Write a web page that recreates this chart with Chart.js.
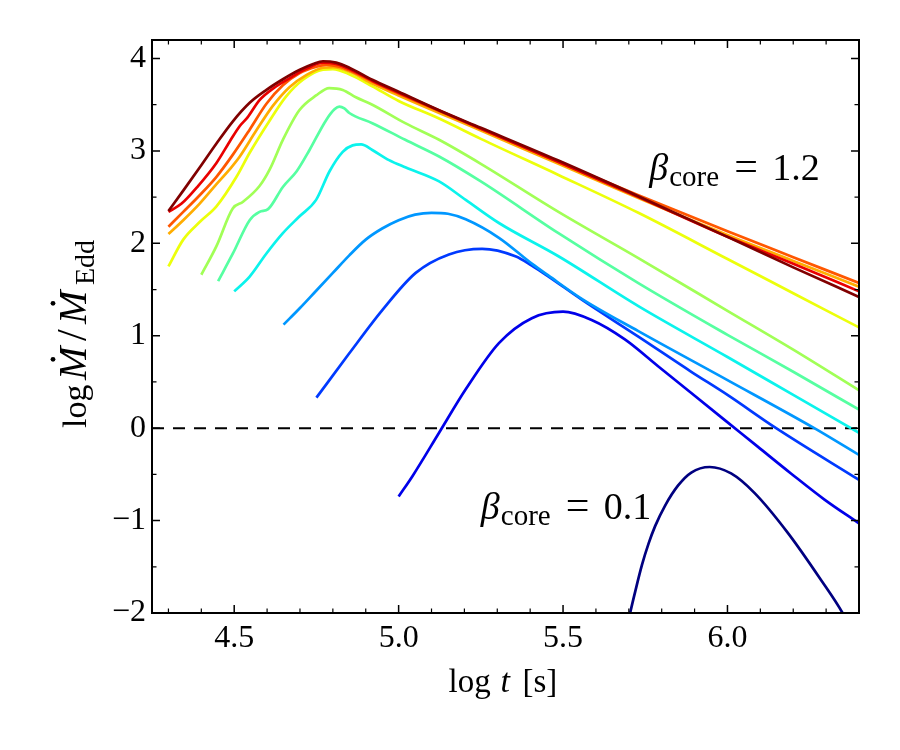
<!DOCTYPE html>
<html>
<head>
<meta charset="utf-8">
<script src="https://cdn.jsdelivr.net/npm/chart.js@4.4.1/dist/chart.umd.min.js"></script>
<style>
  html, body { margin: 0; padding: 0; background: #fff; }
  #wrap { width: 900px; height: 750px; }
</style>
</head>
<body>
<div id="wrap"><canvas id="chart" width="900" height="750"></canvas></div>
<script>
// beta_core of each curve, low to high
const betaCore = [0.1, 0.2, 0.3, 0.4, 0.5, 0.6, 0.7, 0.8, 0.9, 1.0, 1.1, 1.2];

// [log t, log Mdot/MEdd]
const curveB01 = [[5.695,-2.15],[5.704,-2.0],[5.72,-1.76],[5.74,-1.48],[5.76,-1.25],[5.78,-1.06],[5.81,-0.84],[5.85,-0.62],[5.89,-0.48],[5.946,-0.42],[6.011,-0.49],[6.082,-0.70],[6.183,-1.13],[6.284,-1.64],[6.35,-2.0],[6.36,-2.07]];
const curveB02 = [[5.0,-0.74],[5.042,-0.52],[5.123,-0.05],[5.204,0.42],[5.305,0.92],[5.405,1.19],[5.50,1.26],[5.587,1.17],[5.688,0.96],[5.789,0.67],[5.89,0.38],[5.991,0.09],[6.092,-0.20],[6.193,-0.49],[6.294,-0.77],[6.4,-1.03]];
const curveB03 = [[4.75,0.33],[4.85,0.81],[4.951,1.28],[5.052,1.68],[5.153,1.88],[5.254,1.94],[5.355,1.86],[5.405,1.76],[5.456,1.64],[5.557,1.39],[5.729,0.99],[5.89,0.61],[6.0,0.36],[6.148,0.0],[6.4,-0.56]];
const curveB04 = [[4.65,1.12],[4.70,1.30],[4.75,1.49],[4.80,1.68],[4.85,1.87],[4.90,2.04],[4.95,2.16],[5.0,2.25],[5.05,2.31],[5.10,2.33],[5.15,2.32],[5.204,2.26],[5.305,2.06],[5.405,1.78],[5.456,1.65],[5.557,1.40],[5.729,1.05],[6.0,0.52],[6.264,0.0],[6.4,-0.29]];
const curveB05 = [[4.50,1.48],[4.547,1.64],[4.598,1.89],[4.648,2.11],[4.698,2.29],[4.749,2.47],[4.79,2.78],[4.83,2.99],[4.86,3.06],[4.886,3.07],[4.92,3.01],[4.971,2.90],[5.022,2.82],[5.123,2.67],[5.204,2.47],[5.305,2.22],[5.486,1.86],[5.729,1.32],[6.0,0.77],[6.2,0.36],[6.4,-0.05]];
const curveB06 = [[4.451,1.59],[4.496,1.89],[4.547,2.25],[4.577,2.34],[4.603,2.37],[4.648,2.61],[4.69,2.78],[4.729,3.01],[4.779,3.33],[4.805,3.45],[4.82,3.48],[4.835,3.46],[4.85,3.41],[4.92,3.30],[5.02,3.12],[5.123,2.94],[5.25,2.67],[5.486,2.11],[5.729,1.57],[6.0,1.01],[6.2,0.61],[6.4,0.20]];
const curveB07 = [[4.40,1.66],[4.446,1.97],[4.496,2.38],[4.527,2.45],[4.577,2.62],[4.608,2.80],[4.648,3.12],[4.698,3.44],[4.749,3.60],[4.789,3.68],[4.83,3.66],[4.87,3.58],[4.92,3.50],[5.02,3.30],[5.123,3.12],[5.25,2.86],[5.486,2.34],[5.729,1.84],[6.0,1.27],[6.2,0.85],[6.4,0.41]];
const curveB08 = [[4.30,1.75],[4.345,2.04],[4.395,2.23],[4.446,2.40],[4.507,2.72],[4.547,2.98],[4.608,3.33],[4.658,3.59],[4.709,3.77],[4.77,3.88],[4.80,3.885],[4.85,3.83],[4.92,3.70],[5.0,3.54],[5.123,3.35],[5.25,3.13],[5.486,2.74],[5.729,2.33],[6.0,1.83],[6.2,1.46],[6.4,1.09]];
const curveB09 = [[4.30,2.10],[4.345,2.25],[4.395,2.43],[4.446,2.64],[4.486,2.80],[4.517,2.94],[4.567,3.22],[4.618,3.49],[4.668,3.69],[4.719,3.82],[4.77,3.90],[4.80,3.905],[4.85,3.86],[4.92,3.73],[5.0,3.60],[5.25,3.22],[5.486,2.86],[5.729,2.49],[6.0,2.09],[6.2,1.81],[6.4,1.53]];
const curveB10 = [[4.30,2.18],[4.345,2.34],[4.395,2.52],[4.446,2.72],[4.496,2.96],[4.547,3.23],[4.598,3.51],[4.648,3.71],[4.698,3.84],[4.75,3.91],[4.78,3.93],[4.82,3.91],[4.87,3.84],[4.92,3.75],[5.0,3.62],[5.25,3.24],[5.486,2.88],[5.729,2.52],[6.0,2.13],[6.2,1.85],[6.4,1.57]];
const curveB11 = [[4.30,2.34],[4.34,2.43],[4.39,2.62],[4.446,2.87],[4.486,3.10],[4.517,3.27],[4.54,3.36],[4.577,3.55],[4.62,3.68],[4.67,3.79],[4.72,3.89],[4.77,3.955],[4.81,3.94],[4.86,3.87],[4.92,3.76],[5.0,3.63],[5.25,3.24],[5.486,2.88],[5.729,2.50],[6.0,2.07],[6.2,1.78],[6.4,1.48]];
const curveB12 = [[4.30,2.35],[4.345,2.57],[4.395,2.82],[4.446,3.08],[4.496,3.32],[4.547,3.52],[4.598,3.66],[4.648,3.775],[4.698,3.875],[4.74,3.94],[4.77,3.97],[4.81,3.955],[4.85,3.90],[4.92,3.77],[5.0,3.64],[5.123,3.44],[5.25,3.25],[5.486,2.895],[5.729,2.51],[6.0,2.07],[6.2,1.74],[6.4,1.42]];
const curves = [curveB01, curveB02, curveB03, curveB04, curveB05, curveB06, curveB07, curveB08, curveB09, curveB10, curveB11, curveB12];

// Eddington limit reference line
const eddX = [4.25, 6.4];
const eddY = [0, 0];

const xMajorTicks = [4.5, 5.0, 5.5, 6.0];
const xTickLabels = ['4.5', '5.0', '5.5', '6.0'];
const xMinorTicks = [4.3, 4.4, 4.6, 4.7, 4.8, 4.9, 5.1, 5.2, 5.3, 5.4, 5.6, 5.7, 5.8, 5.9, 6.1, 6.2, 6.3];
const yMajorTicks = [-2, -1, 0, 1, 2, 3, 4];
const yTickLabels = ['\u22122', '\u22121', '0', '1', '2', '3', '4'];
const yMinorTicks = [-1.5, -0.5, 0.5, 1.5, 2.5, 3.5];

// jet colormap sampled at i/11
const jetColors = ['#000080', '#0000e9', '#003aff', '#0097ff', '#0bf3ec', '#56ffa1',
                   '#a1ff56', '#ecff0b', '#ffad00', '#ff5700', '#e90000', '#800000'];

const SERIF = '"Liberation Serif", "DejaVu Serif", serif';

const datasets = curves.map((c, i) => ({
    label: 'beta_core = ' + betaCore[i],
    data: c.map(p => ({ x: p[0], y: p[1] })),
    borderColor: jetColors[i],
    borderWidth: 2.7,
    pointRadius: 0,
    cubicInterpolationMode: 'monotone',
    fill: false,
    clip: 0,
    order: curves.length - i
}));
datasets.push({
    label: 'Eddington',
    data: eddX.map((v, i) => ({ x: v, y: eddY[i] })),
    borderColor: '#000',
    borderWidth: 2,
    borderDash: [12, 9],
    pointRadius: 0,
    fill: false,
    order: 100
});

// segments: {text, font, dy, at, dot}; "at" is the offset from the start
function drawRich(ctx, segs, x, y) {
    let cx = x;
    segs.forEach(s => {
        if (s.at !== undefined) cx = x + s.at;
        ctx.font = s.font;
        const w = ctx.measureText(s.text).width;
        ctx.fillText(s.text, cx, y + (s.dy || 0));
        if (s.dot) {
            ctx.beginPath();
            ctx.arc(cx + w * 0.62, y - s.dot, 2.4, 0, Math.PI * 2);
            ctx.fill();
        }
        cx += w;
    });
}

// frame with inward ticks on all four sides
const frameTicks = {
    id: 'frameTicks',
    afterDatasetsDraw(chart) {
        const { ctx, chartArea: a, scales: { x, y } } = chart;
        ctx.save();
        ctx.strokeStyle = '#000';
        const xt = (list, len, lw) => {
            ctx.lineWidth = lw;
            list.forEach(v => {
                const px = x.getPixelForValue(v);
                ctx.beginPath();
                ctx.moveTo(px, a.bottom); ctx.lineTo(px, a.bottom - len);
                ctx.moveTo(px, a.top); ctx.lineTo(px, a.top + len);
                ctx.stroke();
            });
        };
        const yt = (list, len, lw) => {
            ctx.lineWidth = lw;
            list.forEach(v => {
                const py = y.getPixelForValue(v);
                ctx.beginPath();
                ctx.moveTo(a.left, py); ctx.lineTo(a.left + len, py);
                ctx.moveTo(a.right, py); ctx.lineTo(a.right - len, py);
                ctx.stroke();
            });
        };
        xt(xMajorTicks, 8, 1.5); xt(xMinorTicks, 4.5, 1.2);
        yt(yMajorTicks, 8, 1.5); yt(yMinorTicks, 4.5, 1.2);
        ctx.lineWidth = 2;
        ctx.strokeRect(a.left, a.top, a.right - a.left, a.bottom - a.top);
        ctx.restore();
    }
};

const titles = {
    id: 'titles',
    afterDraw(chart) {
        const { ctx, chartArea: a, scales: { x, y } } = chart;
        ctx.save();
        ctx.fillStyle = '#000';
        ctx.textBaseline = 'alphabetic';
        ctx.textAlign = 'left';

        const up = '33px ' + SERIF, it = 'italic 34px ' + SERIF;
        const xl = [
            { text: 'log', font: up },
            { text: 't', font: it, at: 52 },
            { text: '[s]', font: up, at: 74 }
        ];
        drawRich(ctx, xl, (a.left + a.right) / 2 - 57, 692);

        // rotated y title, laid out from its lower end
        const yl = [
            { text: 'log', font: '34px ' + SERIF },
            { text: 'M', font: 'italic 40px ' + SERIF, dot: 33, at: 48 },
            { text: '/', font: '42px ' + SERIF, at: 87 },
            { text: 'M', font: 'italic 40px ' + SERIF, dot: 33, at: 104 },
            { text: 'Edd', font: '28px ' + SERIF, dy: 8, at: 143 }
        ];
        ctx.translate(86, 428);
        ctx.rotate(-Math.PI / 2);
        drawRich(ctx, yl, 0, 0);
        ctx.restore();

        ctx.save();
        ctx.fillStyle = '#000';
        const big = '38px ' + SERIF;
        const note = v => [
            { text: '\u03b2', font: 'italic 38px ' + SERIF },
            { text: 'core', font: '29px ' + SERIF, dy: 6, at: 20 },
            { text: '=', font: '42px ' + SERIF, at: 85 },
            { text: v, font: big, at: 123 }
        ];
        drawRich(ctx, note('1.2'), x.getPixelForValue(5.762), y.getPixelForValue(2.68));
        drawRich(ctx, note('0.1'), x.getPixelForValue(5.25), y.getPixelForValue(-0.98));
        ctx.restore();
    }
};

const chart = new Chart(document.getElementById('chart'), {
    type: 'line',
    data: { datasets: datasets },
    options: {
        responsive: false,
        animation: false,
        events: [],
        layout: { padding: { top: 40, right: 41, left: 0, bottom: 0 } },
        plugins: { legend: { display: false }, tooltip: { enabled: false } },
        scales: {
            x: {
                type: 'linear',
                min: 4.25,
                max: 6.4,
                grid: { display: false, drawTicks: false },
                border: { display: false },
                afterBuildTicks: s => { s.ticks = xMajorTicks.map(v => ({ value: v })); },
                afterFit: s => { s.height = 137; },
                ticks: {
                    autoSkip: false,
                    maxRotation: 0,
                    padding: 6,
                    color: '#000',
                    font: { family: SERIF, size: 32 },
                    callback: v => xTickLabels[xMajorTicks.indexOf(v)]
                }
            },
            y: {
                type: 'linear',
                min: -2,
                max: 4.2,
                grid: { display: false, drawTicks: false },
                border: { display: false },
                afterBuildTicks: s => { s.ticks = yMajorTicks.map(v => ({ value: v })); },
                afterFit: s => { s.width = 152; },
                ticks: {
                    padding: 6,
                    color: '#000',
                    font: { family: SERIF, size: 32 },
                    callback: v => yTickLabels[yMajorTicks.indexOf(v)]
                }
            }
        }
    },
    plugins: [frameTicks, titles]
});
</script>
</body>
</html>
